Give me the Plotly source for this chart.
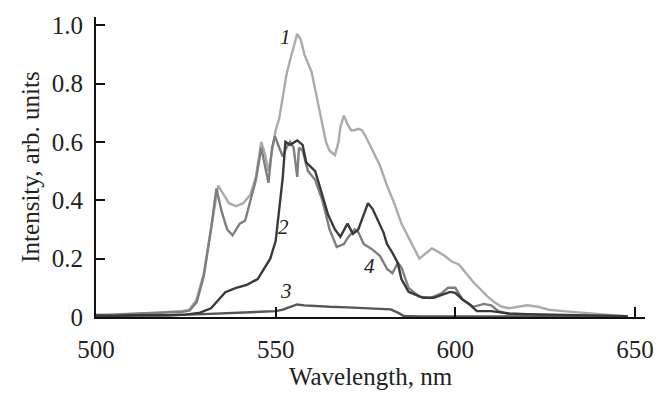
import plotly.graph_objects as go

# Curve 1 (light gray)
wl_1 = [500, 505, 510, 515, 518, 521, 524, 526, 528, 530, 532, 534, 535.5, 537, 539, 541, 543, 544.5,
        546, 547, 548, 549, 550, 551, 552, 553, 554, 555, 556, 557, 558, 559, 560, 561, 562, 563,
        564, 565, 566.5, 567.5, 568, 569, 570, 571, 572, 573, 574, 575, 577, 579, 581, 583, 585,
        587, 589, 590, 592, 593.5, 595, 597, 599, 601, 603, 605, 607, 609, 611, 613, 615, 617,
        620, 623, 626, 630, 635, 640, 645, 648]
int_1 = [0.008, 0.006, 0.01, 0.012, 0.015, 0.018, 0.02, 0.025, 0.06, 0.15, 0.3, 0.45, 0.42, 0.39,
         0.38, 0.39, 0.42, 0.48, 0.6, 0.56, 0.5, 0.57, 0.64, 0.68, 0.75, 0.83, 0.88, 0.93, 0.97,
         0.95, 0.9, 0.87, 0.84, 0.78, 0.72, 0.66, 0.6, 0.57, 0.555, 0.6, 0.65, 0.69, 0.66, 0.64,
         0.64, 0.645, 0.64, 0.62, 0.57, 0.52, 0.45, 0.39, 0.32, 0.27, 0.22, 0.2, 0.22, 0.235, 0.225,
         0.21, 0.19, 0.18, 0.15, 0.12, 0.095, 0.07, 0.05, 0.035, 0.03, 0.035, 0.04, 0.035, 0.025,
         0.02, 0.015, 0.01, 0.005, 0.002]

# Curve 2 (dark)
wl_2 = [500, 505, 510, 515, 520, 525, 529, 532, 536, 539, 542, 545, 547, 548.5, 550, 551, 552,
        552.7, 554, 556, 557.5, 558.5, 560, 561, 562.7, 564.6, 566.5, 568, 570, 571.5, 573, 575,
        575.7, 577, 578.5, 580, 581, 582.5, 584, 585, 587, 589, 591, 594, 596, 598.6, 600, 602,
        604, 606, 610, 615, 620, 630, 640, 648]
int_2 = [0.005, 0.004, 0.006, 0.005, 0.006, 0.008, 0.015, 0.03, 0.085, 0.1, 0.11, 0.13, 0.17,
         0.2, 0.26, 0.36, 0.48, 0.6, 0.59, 0.605, 0.59, 0.53, 0.51, 0.5, 0.43, 0.35, 0.3, 0.275,
         0.32, 0.285, 0.3, 0.37, 0.39, 0.37, 0.33, 0.29, 0.25, 0.22, 0.185, 0.13, 0.086, 0.075,
         0.066, 0.066, 0.075, 0.086, 0.083, 0.06, 0.043, 0.02, 0.02, 0.012, 0.01, 0.008, 0.005,
         0.003]

# Curve 3 (dark, low)
wl_3 = [500, 510, 520, 530, 538, 545, 550, 552, 553.6, 556, 558, 561, 565, 570, 575, 579, 582,
        584, 585.6, 590, 600, 610, 620, 630, 640, 648]
int_3 = [0.003, 0.004, 0.006, 0.01, 0.015, 0.018, 0.02, 0.025, 0.033, 0.043, 0.04, 0.037, 0.035,
         0.033, 0.03, 0.026, 0.026, 0.015, 0.004, 0.002, 0.002, 0.002, 0.002, 0.001, 0.001, 0.001]

# Curve 4 (medium gray)
wl_4 = [500, 505, 510, 515, 520, 524, 526, 528, 530, 532, 533.5, 535, 536.5, 538, 540, 541.5, 543,
        544.5, 546, 547, 548, 549, 549.8, 551, 552, 553, 554, 555, 556, 556.5, 557.5, 559, 561,
        563, 565, 567, 569, 570, 572, 573, 574.5, 576.5, 579, 581, 582.5, 584, 585, 587, 590, 593,
        596, 598, 600, 602, 605, 608, 610, 612, 615, 620, 630, 640, 648]
int_4 = [0.006, 0.008, 0.01, 0.012, 0.014, 0.018, 0.022, 0.05, 0.14, 0.3, 0.44, 0.36, 0.3, 0.28,
         0.32, 0.33, 0.4, 0.47, 0.58, 0.52, 0.46, 0.58, 0.62, 0.58, 0.55, 0.58, 0.6, 0.58, 0.48, 0.58,
         0.57, 0.5, 0.47, 0.4, 0.3, 0.24, 0.25, 0.27, 0.3, 0.29, 0.25, 0.235, 0.21, 0.165, 0.15,
         0.185, 0.17, 0.1, 0.07, 0.065, 0.08, 0.1, 0.1, 0.06, 0.035, 0.045, 0.04, 0.02, 0.01,
         0.008, 0.005, 0.004, 0.002]

x_ticks = [500, 550, 600, 650]
y_ticks = [0, 0.2, 0.4, 0.6, 0.8, 1.0]
y_tick_text = ["0", "0.2", "0.4", "0.6", "0.8", "1.0"]

SERIF = "Liberation Serif"

fig = go.Figure()
for wl, it, col in [(wl_1, int_1, "#ababab"), (wl_4, int_4, "#7e7e7e"),
                    (wl_3, int_3, "#555555"), (wl_2, int_2, "#3a3a3a")]:
    fig.add_trace(go.Scatter(x=wl, y=it, mode="lines",
                             line=dict(color=col, width=2.4), showlegend=False,
                             hoverinfo="skip"))

labels = [("1", 552.7, 0.96), ("2", 552.1, 0.31), ("3", 553.0, 0.09), ("4", 576.1, 0.175)]
for t, xx, yy in labels:
    fig.add_annotation(x=xx, y=yy, text="<i>" + t + "</i>", showarrow=False,
                       font=dict(family=SERIF, size=21, color="#222"))

fig.update_layout(
    width=666, height=396,
    margin=dict(l=96, r=16, t=12, b=73),
    paper_bgcolor="white", plot_bgcolor="white",
    font=dict(family=SERIF, size=25, color="#222"),
)
fig.update_xaxes(range=[500, 652.8], tickvals=x_ticks, ticks="inside", ticklen=10,
                 tickwidth=1.5, tickcolor="#111", showline=True, linecolor="#111",
                 linewidth=2, showgrid=False, zeroline=False,
                 title=dict(text="Wavelength, nm", standoff=3, font=dict(size=25)),
                 ticklabelstandoff=9)
fig.update_yaxes(range=[0, 1.028], tickvals=y_ticks, ticktext=y_tick_text, ticks="inside",
                 ticklen=9, tickwidth=1.5, tickcolor="#111", showline=True, linecolor="#111",
                 linewidth=2, showgrid=False, zeroline=False,
                 title=dict(text="Intensity, arb. units", standoff=5, font=dict(size=25)),
                 ticklabelstandoff=6)

fig.write_html("out.html")
